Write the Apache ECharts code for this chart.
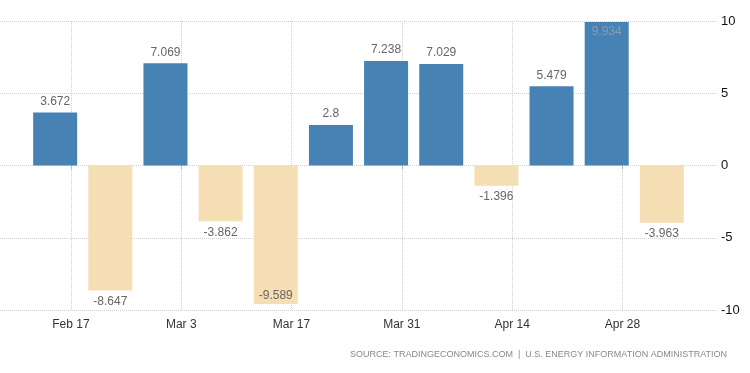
<!DOCTYPE html>
<html>
<head>
<meta charset="utf-8">
<script src="https://cdn.jsdelivr.net/npm/echarts@6/dist/echarts.min.js"></script>
<style>html,body{margin:0;padding:0;background:#fff}#c{width:750px;height:373px}</style>
</head>
<body>
<div id="c"></div>
<script>
// Weekly changes (report dates)
const barDates = ['2019-02-15','2019-02-22','2019-03-01','2019-03-08','2019-03-15','2019-03-22','2019-03-29','2019-04-05','2019-04-12','2019-04-19','2019-04-26','2019-05-03'];
const barValues = [3.672, -8.647, 7.069, -3.862, -9.589, 2.8, 7.238, 7.029, -1.396, 5.479, 9.934, -3.963];
const xTickDates = ['2019-02-17','2019-03-03','2019-03-17','2019-03-31','2019-04-14','2019-04-28'];
const xTickLabels = ['Feb 17','Mar 3','Mar 17','Mar 31','Apr 14','Apr 28'];
const yTicks = [-10, -5, 0, 5, 10];
const axisStart = '2019-02-08';
const axisEnd = '2019-05-10';
const sourceText = 'SOURCE: TRADINGECONOMICS.COM  |  U.S. ENERGY INFORMATION ADMINISTRATION';

// daily category axis
const iso = t => new Date(t).toISOString().slice(0, 10);
const days = [];
for (let t = Date.parse(axisStart + 'T00:00:00Z'); t <= Date.parse(axisEnd + 'T00:00:00Z'); t += 86400000) days.push(iso(t));
const isTick = idx => xTickDates.indexOf(days[idx]) >= 0;

const data = barDates.map((d, i) => {
  const v = barValues[i];
  const item = { value: [d, v], itemStyle: { color: v >= 0 ? '#4682B4' : '#F5DEB3' } };
  if (v >= 9.5) item.label = { position: 'insideTop', color: '#8c9cb0', distance: 4 };
  else if (v <= -9.5) item.label = { position: 'insideBottom', distance: 2 };
  else item.label = { position: v >= 0 ? 'top' : 'bottom' };
  return item;
});

const chart = echarts.init(document.getElementById('c'), null, { renderer: 'canvas' });
chart.setOption({
  animation: false,
  backgroundColor: '#fff',
  textStyle: { fontFamily: 'Liberation Sans, Arial, sans-serif' },
  grid: { left: 0, right: 33, top: 21, bottom: 63, containLabel: false },
  xAxis: {
    type: 'category', data: days, boundaryGap: false,
    axisLine: { show: false },
    axisTick: { show: true, length: 4, interval: isTick, lineStyle: { color: '#bbb' } },
    axisLabel: {
      interval: isTick, margin: 9, color: '#333', fontSize: 12,
      formatter: v => xTickLabels[xTickDates.indexOf(v)] || ''
    },
    splitLine: { show: true, interval: isTick, lineStyle: { color: '#d0d0d0', type: [1, 1] } }
  },
  yAxis: {
    type: 'value', position: 'right', min: yTicks[0], max: yTicks[yTicks.length - 1], interval: 5,
    axisLine: { show: false }, axisTick: { show: false },
    axisLabel: { margin: 4, color: '#111', fontSize: 13 },
    splitLine: { show: true, lineStyle: { color: '#d0d0d0', type: [1, 1] } }
  },
  series: [{
    type: 'bar', data: data, barWidth: 44,
    label: { show: true, color: '#666', fontSize: 12, distance: 5, formatter: p => String(p.value[1]) }
  }],
  graphic: [{
    type: 'text', right: 23, top: 350,
    style: { text: sourceText, fill: '#888', font: '9px Liberation Sans, Arial, sans-serif' }
  }]
});
</script>
</body>
</html>
